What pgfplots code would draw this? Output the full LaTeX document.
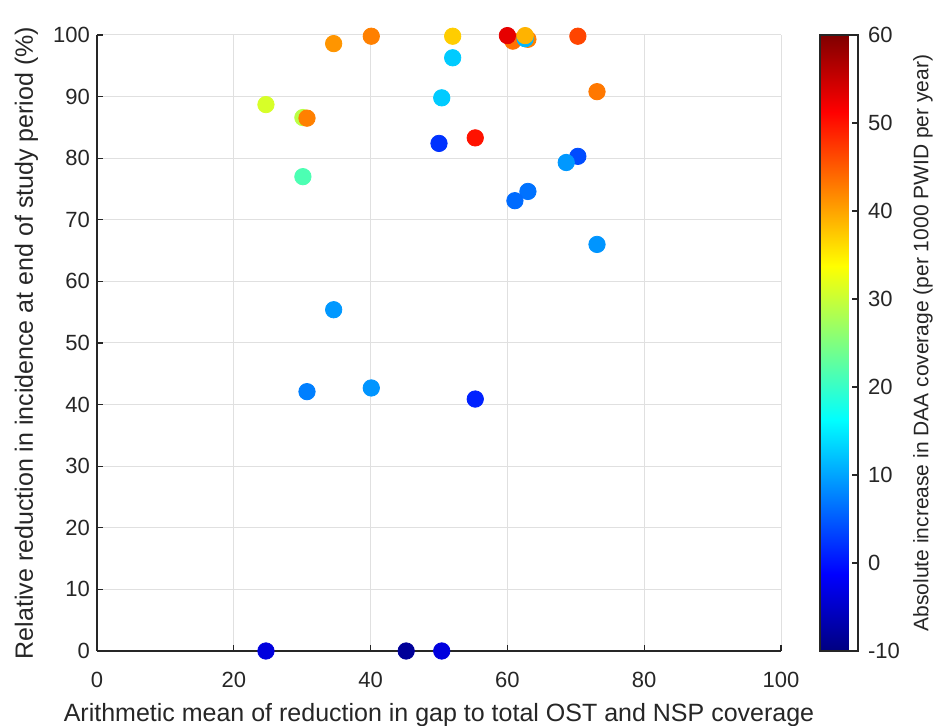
\documentclass[border=0pt]{standalone}
\usepackage{fontspec}
\setmainfont{Liberation Sans}
\usepackage{pgfplots}
\pgfplotsset{compat=1.18}
\usepackage{pgfplotstable}
\definecolor{txt}{rgb}{0.15,0.15,0.15}
\definecolor{gridc}{rgb}{0.88,0.88,0.88}
\pgfplotsset{/pgf/number format/assume math mode=true}

\pgfplotstableread{
x y c
24.7 88.7 31
24.7 0.0 -3.5
30.1 86.6 29
30.7 86.5 42.5
30.1 77.0 21.5
30.7 42.1 7.5
34.6 98.6 41
34.6 55.4 9.2
40.1 99.8 42.5
40.1 42.7 9
45.2 0.0 -8.3
50.0 82.4 2.2
50.4 89.8 12.7
50.4 0.0 -3.5
52.0 96.3 12.7
52.0 99.8 37.2
55.3 83.3 50
55.3 40.9 1
60.8 99.0 43.4
60.0 99.9 53
63.0 99.3 42.5
62.6 99.4 11.3
62.6 99.9 39
63.0 74.6 6.6
61.1 73.1 6.1
70.3 80.3 4
68.6 79.3 9.2
70.3 99.8 46.5
73.1 90.8 43
73.1 66.0 9
}\pts

\begin{document}
\begin{tikzpicture}
\begin{axis}[
  at={(0,0)}, anchor=south west,
  scale only axis, width=342pt, height=308pt,
  xmin=0, xmax=100, ymin=0, ymax=100,
  xtick={0,20,...,100}, ytick={0,10,...,100},
  axis x line*=bottom, axis y line*=left,
  axis line style={-, color=txt, line width=0.6pt},
  grid=major, grid style={color=gridc, line width=0.5pt},
  tick align=inside, major tick length=3pt,
  tick style={color=txt, line width=0.6pt},
  ticklabel style={font=\fontsize{11}{13}\selectfont, text=txt},
  xticklabel style={yshift=-7pt},
  xlabel={Arithmetic mean of reduction in gap to total OST and NSP coverage},
  ylabel={Relative reduction in incidence at end of study period (\%)},
  xlabel style={font=\fontsize{12.5}{14}\selectfont, text=txt, at={(axis description cs:0.5,0)}, anchor=base, yshift=-35.5pt},
  ylabel style={font=\fontsize{12.5}{14}\selectfont, text=txt, at={(axis description cs:-0.0936,0.5)}, anchor=base},
  colormap/jet, point meta min=-10, point meta max=60,
  scatter/use mapped color={draw=mapped color, fill=mapped color},
  colorbar,
  colorbar style={
    at={(parent axis.north east)}, anchor=north west, xshift=11pt,
    width=19pt, height=308pt, scale only axis,
    ytick={-10,0,...,60},
    ytick pos=right, yticklabel pos=right,
    tick align=inside, major tick length=3pt,
    tick style={color=txt, line width=0.6pt},
    axis line style={color=txt, line width=0.6pt},
    yticklabel style={font=\fontsize{11}{13}\selectfont, text=txt, xshift=1.5pt},
    ylabel={Absolute increase in DAA coverage (per 1000 PWID per year)},
    ylabel style={font=\fontsize{10.5}{12}\selectfont, text=txt, at={(axis description cs:2.85,0.5)}, anchor=base},
  },
]
\addplot[scatter, only marks, mark=*, mark size=4.1pt, point meta=\thisrow{c}] table[x=x, y=y] {\pts};
\end{axis}
\pgfresetboundingbox
\path[use as bounding box] (-48.5pt,-37.5pt) rectangle (419.5pt,325.5pt);
\end{tikzpicture}
\end{document}
